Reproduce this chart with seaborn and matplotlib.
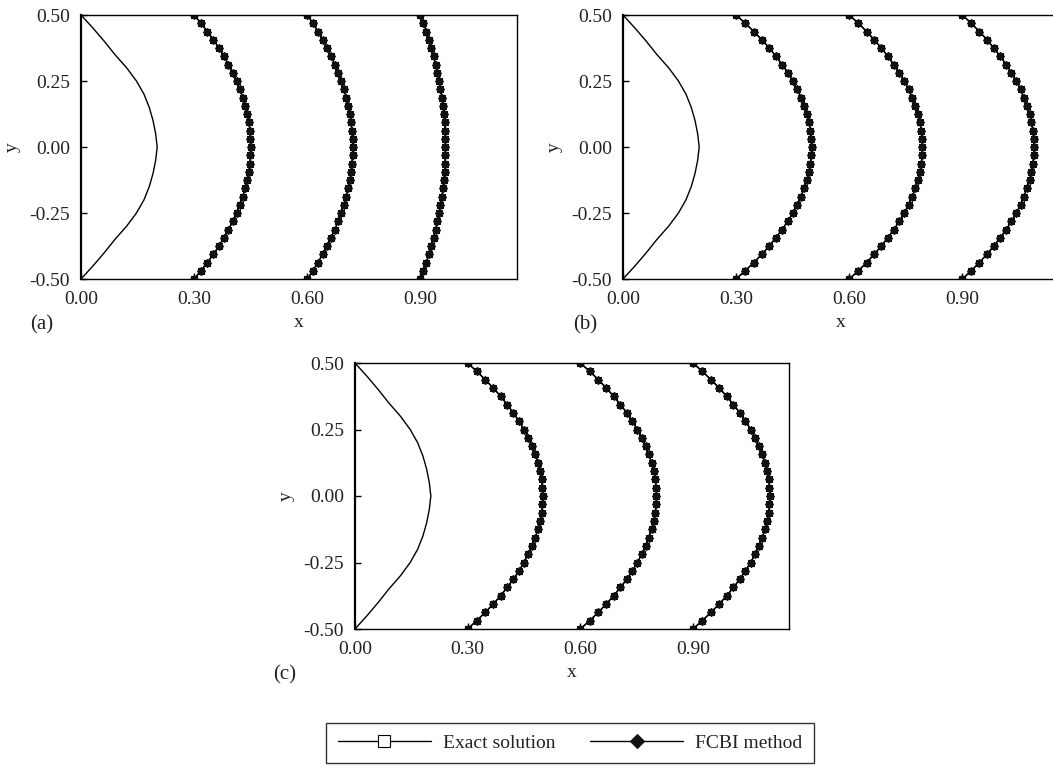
import numpy as np
import pandas as pd
import matplotlib
matplotlib.use("Agg")
import matplotlib.pyplot as plt
import seaborn as sns

sns.set_style("white")
plt.rcParams['font.family'] = ['Liberation Serif', 'DejaVu Serif']
plt.rcParams['axes.unicode_minus'] = False

# ---- data (upper half, y from 0.5 down to 0; lower half mirrors) ----
y_half = [0.5, 0.46875, 0.4375, 0.40625, 0.375, 0.34375, 0.3125, 0.28125, 0.25,
          0.21875, 0.1875, 0.15625, 0.125, 0.09375, 0.0625, 0.03125, 0.0]

# initial interface (no markers)
y_init_half = [0.5, 0.45, 0.4, 0.35, 0.3, 0.25, 0.2, 0.15, 0.1, 0.05, 0.0]
x_init_half = [0.0, 0.032, 0.062, 0.090, 0.121, 0.147, 0.167, 0.181, 0.191, 0.198, 0.202]

# panel (a)
a1 = [.300, .318, .335, .351, .366, .379, .391, .403, .413, .421, .429, .435, .441, .445, .448, .449, .450]
a2 = [.600, .615, .628, .641, .653, .663, .673, .682, .690, .697, .703, .708, .713, .716, .718, .720, .720]
a3 = [.900, .908, .916, .922, .929, .935, .940, .945, .950, .953, .957, .960, .962, .964, .965, .966, .966]
# panel (b)
b1 = [.300, .324, .347, .368, .388, .405, .422, .437, .450, .462, .472, .480, .488, .493, .497, .499, .500]
b2 = [.600, .624, .646, .666, .685, .702, .718, .733, .746, .757, .767, .775, .782, .787, .791, .793, .794]
b3 = [.900, .923, .945, .965, .983, 1.000, 1.016, 1.030, 1.043, 1.054, 1.063, 1.071, 1.078, 1.083, 1.087, 1.089, 1.090]
# panel (c)
c1 = [.300, .324, .347, .368, .388, .405, .422, .437, .450, .462, .472, .480, .488, .493, .497, .499, .500]
c2 = [.600, .625, .648, .669, .689, .707, .724, .739, .752, .764, .775, .783, .790, .796, .800, .802, .803]
c3 = [.900, .925, .948, .970, .990, 1.008, 1.025, 1.040, 1.054, 1.066, 1.076, 1.085, 1.092, 1.098, 1.102, 1.104, 1.105]

panel_labels = ["(a)", "(b)", "(c)"]
panel_curves = [[a1, a2, a3], [b1, b2, b3], [c1, c2, c3]]
x_ticks = [0.0, 0.3, 0.6, 0.9]
y_ticks = [-0.5, -0.25, 0.0, 0.25, 0.5]
legend_labels = ["Exact solution", "FCBI method"]


def full(half_vals, negate=False):
    h = np.asarray(half_vals, dtype=float)
    tail = h[-2::-1]
    if negate:
        tail = -tail
    return np.concatenate([h, tail])


y_full = full(y_half, negate=True)
y_init = full(y_init_half, negate=True)
x_init = full(x_init_half)

W, H = 1053, 768
fig = plt.figure(figsize=(W / 100, H / 100), dpi=100)

rects = [
    (81 / W, 1 - 279 / H, 436 / W, 264 / H),
    (623 / W, 1 - 279 / H, 436 / W, 264 / H),
    (355 / W, 1 - 629 / H, 434 / W, 266 / H),
]
label_pos = [(42, 325), (585, 325), (285, 675)]

fs = 14
handles = None
for i, rect in enumerate(rects):
    ax = fig.add_axes(rect)
    sns.lineplot(x=x_init, y=y_init, sort=False, estimator=None, color="black",
                 lw=1.0, ax=ax)
    for j, cx in enumerate(panel_curves[i]):
        xf = full(cx)
        sns.lineplot(x=xf, y=y_full, sort=False, estimator=None, color="black", lw=1.0,
                     marker="s", markersize=5, markerfacecolor="white",
                     markeredgecolor="black", markeredgewidth=0.8,
                     label=legend_labels[0] if j == 0 else None, legend=False, ax=ax)
        sns.lineplot(x=xf, y=y_full, sort=False, estimator=None, color="black", lw=1.0,
                     marker="D", markersize=4.3, markerfacecolor="#111111",
                     markeredgecolor="#111111", markeredgewidth=0.8,
                     label=legend_labels[1] if j == 0 else None, legend=False, ax=ax)
    ax.set_xlim(0, 1.156)
    ax.set_ylim(-0.5, 0.5)
    ax.set_xticks(x_ticks)
    ax.set_yticks(y_ticks)
    ax.set_xticklabels([f"{v:.2f}" for v in x_ticks], fontsize=fs)
    ax.set_yticklabels([f"{v:.2f}" for v in y_ticks], fontsize=fs)
    ax.tick_params(direction="in", length=4, width=1, color="black",
                   left=True, bottom=True, labelcolor="#222222")
    ax.tick_params(axis="x", pad=9)
    ax.tick_params(axis="y", pad=8)
    for s in ax.spines.values():
        s.set_color("black")
        s.set_linewidth(1.0)
    ax.spines["left"].set_linewidth(1.6)
    ax.set_xlabel("x", fontsize=fs, color="#222222", labelpad=4)
    ax.set_ylabel("y", fontsize=fs, color="#222222", labelpad=6)
    fig.text(label_pos[i][0] / W, 1 - label_pos[i][1] / H, panel_labels[i],
             fontsize=fs + 1, ha="center", va="center", color="#222222")
    if i == 0:
        h, l = ax.get_legend_handles_labels()
        handles = (h[:2], l[:2])

leg = fig.legend(handles[0], handles[1], loc="center",
                 bbox_to_anchor=((327 + 813) / 2 / W, 1 - 743 / H),
                 ncol=2, fontsize=fs, frameon=True, fancybox=False,
                 handlelength=4.8, handletextpad=0.6, columnspacing=1.8,
                 borderpad=0.6, markerscale=1.6, borderaxespad=0)
leg.get_frame().set_edgecolor("black")
leg.get_frame().set_linewidth(1.0)
for t in leg.get_texts():
    t.set_color("#222222")

fig.savefig("out.png", dpi=100)
